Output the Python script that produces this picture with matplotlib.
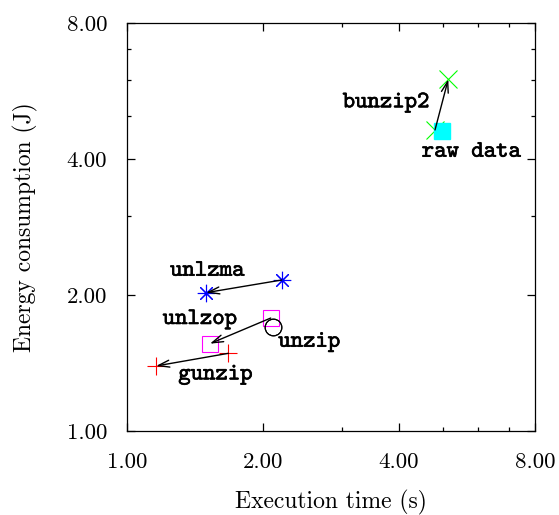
import numpy as np
import matplotlib
matplotlib.use('Agg')
import matplotlib.pyplot as plt
import matplotlib.patheffects as pe
from matplotlib.ticker import FixedLocator, NullFormatter

# ── Data: (time s, energy J) before -> after ───────────────────────────────
names      = ["gunzip", "unlzma", "unlzop", "unzip", "bunzip2"]
t_before   = [1.678, 2.202, 2.082, 2.110, 4.808]
e_before   = [1.488, 2.162, 1.781, 1.704, 4.645]
t_after    = [1.161, 1.498, 1.528, 2.110, 5.144]
e_after    = [1.395, 2.027, 1.563, 1.704, 6.014]
markers    = ["+", (8, 2, 0), "s", "o", "x"]
colors     = ["#ff0000", "#0000ff", "#ff00ff", "#000000", "#00ff00"]

raw_t, raw_e = 4.989, 4.614

# label anchors (left / baseline)
label_text = ["gunzip", "unlzma", "unlzop", "unzip", "bunzip2", "raw data"]
label_t    = [1.300, 1.247, 1.201, 2.164, 3.004, 4.493]
label_e    = [1.303, 2.210, 1.728, 1.539, 5.214, 4.053]

ticks      = [1, 2, 4, 8]
tick_labels = ["1.00", "2.00", "4.00", "8.00"]
minor_ticks = [3, 5, 6, 7]

fig = plt.figure(figsize=(5.59, 5.15), dpi=100)
ax = fig.add_axes([0.2267, 0.1625, 0.7303, 0.7923])

ax.set_xscale('log', base=2)
ax.set_yscale('log', base=2)
ax.set_xlim(1, 8)
ax.set_ylim(1, 8)

for i, name in enumerate(names):
    kw = dict(ls='none', marker=markers[i], ms=12.5, mew=0.8,
              color=colors[i], zorder=3)
    if markers[i] in ("s", "o"):
        kw.update(mfc='none', mec=colors[i], ms=12)
    ax.plot([t_before[i], t_after[i]], [e_before[i], e_after[i]], **kw)

ax.plot([raw_t], [raw_e], ls='none', marker='s', ms=12, color='#00ffff',
        mec='#00ffff', zorder=4)

for i in range(len(names)):
    if (t_before[i], e_before[i]) == (t_after[i], e_after[i]):
        continue
    ax.annotate('', xy=(t_after[i], e_after[i]),
                xytext=(t_before[i], e_before[i]),
                arrowprops=dict(arrowstyle='->,head_length=0.8,head_width=0.25',
                                lw=1.0, color='black',
                                shrinkA=0, shrinkB=0),
                zorder=5)

for txt, x, y in zip(label_text, label_t, label_e):
    ax.text(x, y, txt, family='cmtt10', fontsize=17, ha='left',
            va='baseline', zorder=6,
            path_effects=[pe.withStroke(linewidth=0.45, foreground='black')])

# ── Axes styling (gnuplot look) ────────────────────────────────────────────
ax.xaxis.set_major_locator(FixedLocator(ticks))
ax.yaxis.set_major_locator(FixedLocator(ticks))
ax.xaxis.set_minor_locator(FixedLocator(minor_ticks))
ax.yaxis.set_minor_locator(FixedLocator(minor_ticks))
ax.xaxis.set_minor_formatter(NullFormatter())
ax.yaxis.set_minor_formatter(NullFormatter())
ax.set_xticklabels(tick_labels, family='cmr10', fontsize=16.5)
ax.set_yticklabels(tick_labels, family='cmr10', fontsize=16.5)

ax.tick_params(which='both', direction='in', top=True, right=True,
               width=0.9, color='black')
ax.tick_params(which='major', length=6)
ax.tick_params(which='minor', length=3.2)
ax.tick_params(axis='x', which='major', pad=15)
ax.tick_params(axis='y', which='major', pad=14)
for s in ax.spines.values():
    s.set_linewidth(0.9)

fig.text(330.8 / 559, 1 - 502 / 515, "Execution time (s)", family='cmr10',
         fontsize=17, ha='center', va='center')
fig.text(25 / 559, 1 - 227 / 515, "Energy consumption (J)", family='cmr10',
         fontsize=17, ha='center', va='center', rotation=90)

fig.savefig('out.png', dpi=100)
plt.close(fig)
